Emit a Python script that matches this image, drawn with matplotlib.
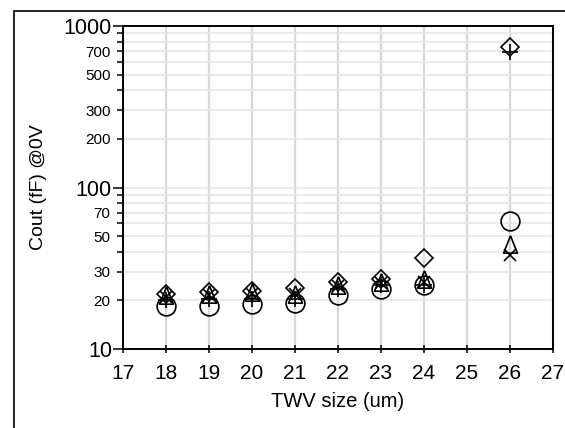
import matplotlib
matplotlib.use("Agg")
import matplotlib.pyplot as plt
import matplotlib.patches as patches
from matplotlib.ticker import FixedLocator, FixedFormatter

plt.rcParams['font.family'] = ['Liberation Sans', 'DejaVu Sans']

twv = [18, 19, 20, 21, 22, 23, 24, 26]
circle_vals = [18.5, 18.5, 19.0, 19.3, 21.5, 23.5, 25.0, 62]
triangle_vals = [21.5, 22.0, 22.5, 22.0, 25.0, 26.0, 27.0, 45]
x_vals = [21.0, 21.5, 22.0, 22.0, 24.5, 25.5, 26.0, 38]
plus_vals = [20.0, 20.5, 20.5, 20.5, 23.5, 25.0, 25.0, 690]
diamond_vals = [22.0, 22.5, 23.0, 24.0, 26.0, 27.0, 36.5, 740]

xticks = list(range(17, 28))
major_y = [10, 100, 1000]
minor_y = [20, 30, 40, 50, 60, 70, 80, 90, 200, 300, 400, 500, 600, 700, 800, 900]
minor_labels = ['20', '30', '', '50', '', '70', '', '', '200', '300', '', '500', '', '700', '', '']

fig = plt.figure(figsize=(5.65, 4.28), dpi=100)
fig.patches.append(patches.Rectangle((14/565, -0.1), 1.2, (428-11)/428 + 0.1,
                                     transform=fig.transFigure, fill=False,
                                     edgecolor='black', linewidth=1.2))
ax = fig.add_axes([123/565, (428-349)/428, 430/565, 323/428])
ax.set_yscale('log')
ax.set_xlim(17, 27)
ax.set_ylim(10, 1000)

ax.yaxis.set_major_locator(FixedLocator(major_y))
ax.yaxis.set_major_formatter(FixedFormatter([str(v) for v in major_y]))
ax.yaxis.set_minor_locator(FixedLocator(minor_y))
ax.yaxis.set_minor_formatter(FixedFormatter(minor_labels))
ax.set_xticks(xticks)
ax.set_xticklabels([str(v) for v in xticks])

ax.grid(True, which='major', axis='x', color='#d8d8d8', linewidth=1.6)
ax.grid(True, which='both', axis='y', color='#e6e6e6', linewidth=1.2)
ax.set_axisbelow(True)

ax.tick_params(axis='y', which='major', direction='out', length=7.5, width=1.1, labelsize=15.5, pad=0.5)
ax.tick_params(axis='y', which='minor', direction='out', length=4, width=1.1, labelsize=11, pad=5)
ax.tick_params(axis='x', which='major', direction='inout', length=6, width=1.1, labelsize=15, pad=8)
for s in ax.spines.values():
    s.set_linewidth(1.4)

common = dict(linestyle='none', color='black', markerfacecolor='none',
              markeredgecolor='black', markeredgewidth=1.2, clip_on=False)
tri = [(0, 1), (-0.8, -1), (0.8, -1), (0, 1)]
ax.plot(twv, circle_vals, marker='o', markersize=13.5, **common)
ax.plot(twv, triangle_vals, marker=tri, markersize=12.5, **common)
ax.plot(twv, x_vals, marker='x', markersize=9, **common)
ax.plot(twv, plus_vals, marker='+', markersize=11, **common)
ax.plot(twv, diamond_vals, marker='D', markersize=9, **common)

ax.set_xlabel('TWV size (um)', fontsize=14.5, labelpad=6)
ax.set_ylabel('Cout (fF) @0V', fontsize=14, labelpad=12)

fig.savefig('out.png', dpi=100)
